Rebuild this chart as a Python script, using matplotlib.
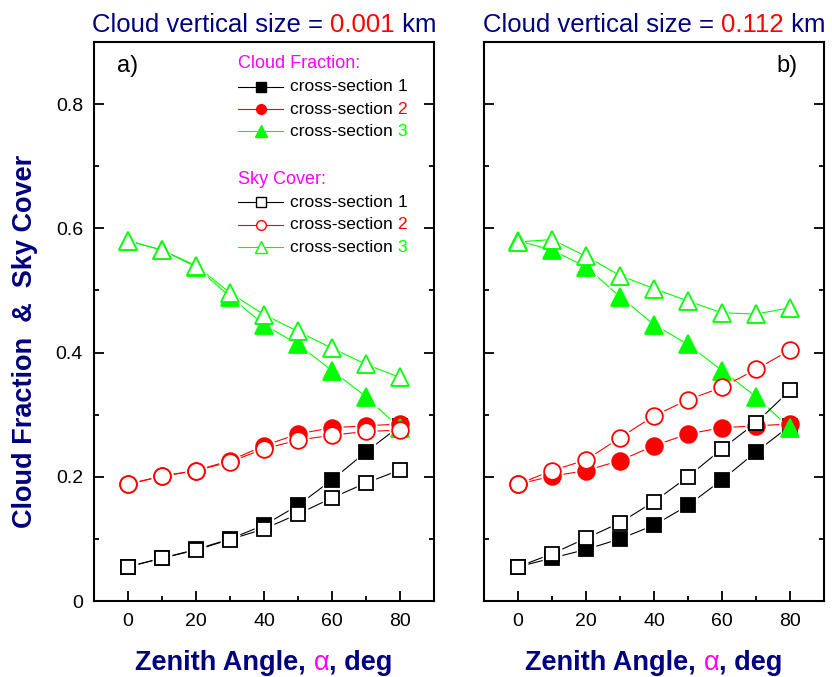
import matplotlib
matplotlib.use("Agg")
import matplotlib.pyplot as plt
from matplotlib.ticker import MultipleLocator, FuncFormatter

plt.rcParams["font.family"] = ["Liberation Sans", "DejaVu Sans"]

NAVY = "#000080"
MAGENTA = "#FF00FF"
COLORS = ["black", "#FF0000", "#00FF00"]

# ── data ──────────────────────────────────────────────────────────────────────
angle = [0, 10, 20, 30, 40, 50, 60, 70, 80]

# cloud fraction (same for both cloud sizes)
cf1 = [0.055, 0.069, 0.083, 0.100, 0.122, 0.154, 0.195, 0.240, 0.282]
cf2 = [0.188, 0.201, 0.210, 0.226, 0.250, 0.269, 0.279, 0.282, 0.285]
cf3 = [0.580, 0.565, 0.538, 0.490, 0.445, 0.413, 0.371, 0.329, 0.278]

# sky cover, vertical size 0.001 km
sc1_a = [0.055, 0.069, 0.082, 0.099, 0.116, 0.140, 0.166, 0.190, 0.211]
sc2_a = [0.188, 0.201, 0.210, 0.224, 0.245, 0.259, 0.267, 0.273, 0.275]
sc3_a = [0.580, 0.565, 0.540, 0.496, 0.461, 0.434, 0.407, 0.381, 0.360]

# sky cover, vertical size 0.112 km
sc1_b = [0.055, 0.076, 0.101, 0.126, 0.160, 0.200, 0.245, 0.287, 0.339]
sc2_b = [0.188, 0.210, 0.227, 0.263, 0.298, 0.324, 0.344, 0.373, 0.404]
sc3_b = [0.578, 0.582, 0.555, 0.524, 0.503, 0.483, 0.464, 0.462, 0.472]

sizes = ["0.001", "0.112"]
panel_tags = ["a)", "b)"]
markers = ["s", "o", "^"]
msizes = [10.5, 12, 12.5]

fig = plt.figure(figsize=(8.32, 6.77), dpi=100)
ax_a = fig.add_axes([94 / 832, 1 - 601 / 677, 340 / 832, 559 / 677])
ax_b = fig.add_axes([484 / 832, 1 - 601 / 677, 340 / 832, 559 / 677])

groups = []  # multi-coloured texts that need centering


def chain_text(ax, x, y, parts, transform, **kw):
    """Write text pieces with different colours one after another."""
    s, c, extra = parts[0]
    first = ax.text(x, y, s, color=c, transform=transform, ha="left",
                    va="center", **kw, **extra)
    arts = [first]
    prev = first
    for s, c, extra in parts[1:]:
        prev = ax.annotate(s, xy=(1, 0.5), xycoords=prev, xytext=(0, 0),
                           textcoords="offset points", ha="left", va="center",
                           color=c, **kw, **extra)
        arts.append(prev)
    return arts


def series(ax, y, color, marker, ms, filled, z):
    # line below everything, white halo breaks lines at markers, marker on top
    ax.plot(angle, y, "-", color=color, lw=0.8, zorder=2)
    ax.plot(angle, y, ls="none", marker=marker, ms=ms + 3, mfc="white",
            mec="white", zorder=3)
    ax.plot(angle, y, ls="none", marker=marker, ms=ms,
            mfc=color if filled else "white", mec=color, mew=1.3, zorder=4 + z * 0.01)


for i, (ax, sc) in enumerate([(ax_a, [sc1_a, sc2_a, sc3_a]), (ax_b, [sc1_b, sc2_b, sc3_b])]):
    z = 0
    for y, col, m, ms in zip([cf1, cf2, cf3], COLORS, markers, msizes):
        series(ax, y, col, m, ms, True, z)
        z += 1
    for y, col, m, ms in zip(sc, COLORS, markers, msizes):
        series(ax, y, col, m, ms, False, z)
        z += 1

    ax.set_xlim(-10, 90)
    ax.set_ylim(0, 0.9)
    ax.xaxis.set_major_locator(MultipleLocator(20))
    ax.xaxis.set_minor_locator(MultipleLocator(10))
    ax.yaxis.set_major_locator(MultipleLocator(0.2))
    ax.yaxis.set_minor_locator(MultipleLocator(0.1))
    ax.yaxis.set_major_formatter(FuncFormatter(lambda v, p: "0" if v == 0 else f"{v:g}"))
    ax.tick_params(which="both", direction="in", top=False, right=True, width=1.3,
                   labelsize=14)
    ax.tick_params(which="major", length=7)
    ax.tick_params(which="minor", length=3.5)
    ax.tick_params(axis="x", pad=9)
    ax.tick_params(axis="y", pad=8)
    if i == 1:
        ax.tick_params(axis="y", labelleft=False)
    for sp in ax.spines.values():
        sp.set_linewidth(1.5)

    # title
    groups.append((ax, 0.5, chain_text(ax, 0.5, 1.031, [
        ("Cloud vertical size = ", NAVY, {}),
        (sizes[i], "#FF0000", {}),
        (" km", NAVY, {})], ax.transAxes, fontsize=18.5)))

    # x label
    groups.append((ax, 0.5, chain_text(ax, 0.5, -0.111, [
        ("Zenith Angle, ", NAVY, {"fontweight": "bold"}),
        ("\u03b1", MAGENTA, {"fontweight": "normal"}),
        (", deg", NAVY, {"fontweight": "bold"})], ax.transAxes, fontsize=19.5)))

    tx = 0.068 if i == 0 else 0.86
    ax.text(tx, 0.957, panel_tags[i], transform=ax.transAxes, fontsize=17,
            ha="left", va="center")

# ── legend in panel a ─────────────────────────────────────────────────────────
rows_cf = [0.920, 0.880, 0.840]
rows_sc = [0.713, 0.673, 0.633]
leg_ms = [6.5, 7, 8]
ax_a.text(0.424, 0.961, "Cloud Fraction:", color=MAGENTA, fontsize=13,
          transform=ax_a.transAxes, ha="left", va="center")
ax_a.text(0.424, 0.754, "Sky Cover:", color=MAGENTA, fontsize=13,
          transform=ax_a.transAxes, ha="left", va="center")
for rows, filled in [(rows_cf, True), (rows_sc, False)]:
    for k, (yy, col, m, ms) in enumerate(zip(rows, COLORS, markers, leg_ms)):
        ax_a.plot([0.424, 0.556], [yy, yy], color=col, lw=0.8, transform=ax_a.transAxes)
        ax_a.plot([0.49], [yy], marker=m, ms=ms, mfc=col if filled else "white",
                  mec=col, mew=1.0, transform=ax_a.transAxes)
        chain_text(ax_a, 0.576, yy, [("cross-section ", "black", {}),
                                     (str(k + 1), col, {})],
                   ax_a.transAxes, fontsize=12.5)

fig.text(25 / 832, 1 - 341 / 677, "Cloud Fraction  &  Sky Cover", rotation=90,
         color=NAVY, fontsize=19.5, fontweight="bold", ha="center", va="center")

# centre the multi-coloured texts
fig.canvas.draw()
for ax, cx, arts in groups:
    x0 = arts[0].get_window_extent().x0
    x1 = arts[-1].get_window_extent().x1
    width = x1 - x0
    cdisp = ax.transAxes.transform((cx, 0))[0]
    shift = (cdisp - width / 2) - x0
    px, py = arts[0].get_position()
    dx = ax.transAxes.transform((px, py))[0] + shift
    newx = ax.transAxes.inverted().transform((dx, 0))[0]
    arts[0].set_x(newx)

fig.savefig("out.png", dpi=100)
